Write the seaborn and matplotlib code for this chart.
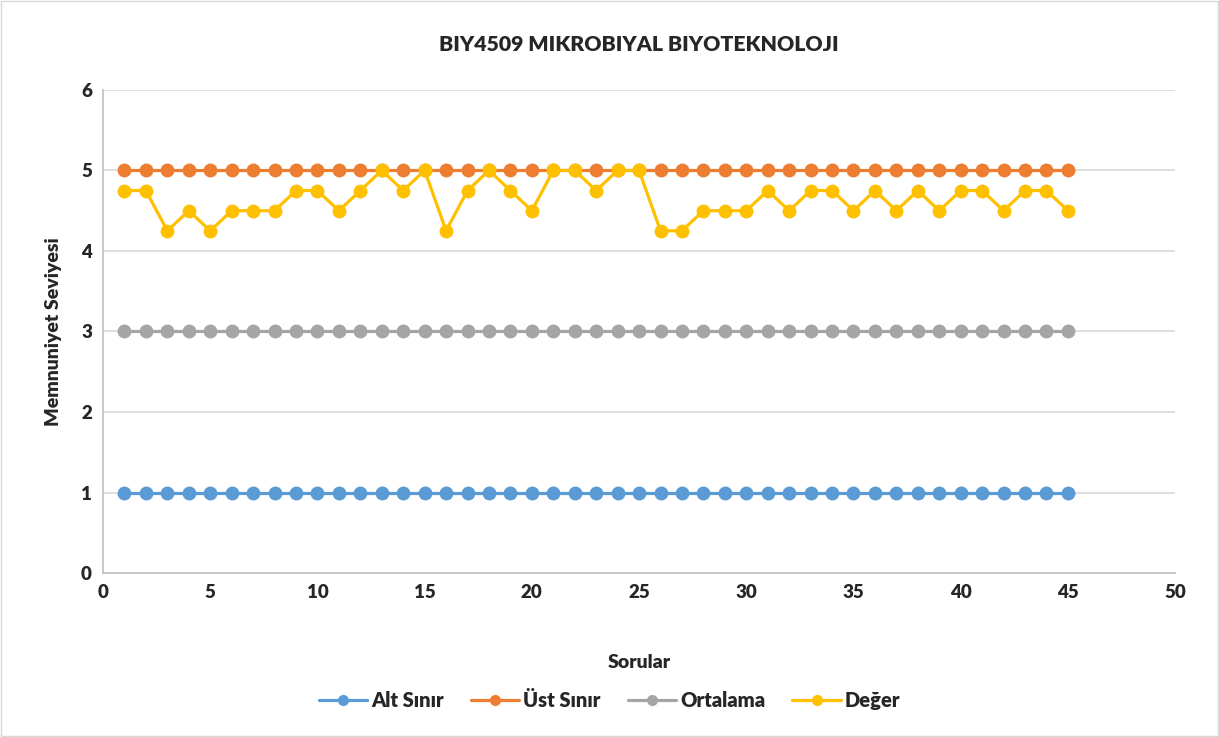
import numpy as np
import pandas as pd
import matplotlib
matplotlib.use("Agg")
import matplotlib.pyplot as plt
import seaborn as sns

# data
sorular = list(range(1, 46))
alt_sinir = [1] * 45
ust_sinir = [5] * 45
ortalama = [3] * 45
deger = [4.75, 4.75, 4.25, 4.5, 4.25, 4.5, 4.5, 4.5, 4.75, 4.75,
         4.5, 4.75, 5, 4.75, 5, 4.25, 4.75, 5, 4.75, 4.5,
         5, 5, 4.75, 5, 5, 4.25, 4.25, 4.5, 4.5, 4.5,
         4.75, 4.5, 4.75, 4.75, 4.5, 4.75, 4.5, 4.75, 4.5, 4.75,
         4.75, 4.5, 4.75, 4.75, 4.5]

series_names = ["Alt Sınır", "Üst Sınır", "Ortalama", "Değer"]
series_colors = ["#5B9BD5", "#ED7D31", "#A5A5A5", "#FFC000"]

df = pd.DataFrame({
    "Sorular": sorular * 4,
    "value": alt_sinir + ust_sinir + ortalama + deger,
    "series": np.repeat(series_names, len(sorular)),
})

sns.set_style("white")
plt.rcParams["font.family"] = ["Lato", "DejaVu Sans"]

fig = plt.figure(figsize=(12.19, 7.37), dpi=100)
ax = fig.add_axes([0.0845, 0.2225, 0.8795, 0.6555])

for name, color in zip(series_names, series_colors):
    sns.lineplot(data=df[df["series"] == name], x="Sorular", y="value",
                 color=color, marker="o", markersize=10, markeredgewidth=0,
                 linewidth=2.3, label=name, ax=ax)

ax.set_xlim(0, 50)
ax.set_ylim(0, 6)
ax.set_xticks(range(0, 51, 5))
ax.set_yticks(range(0, 7))
ax.tick_params(axis="both", length=0, labelsize=13.5, pad=8)
for lbl in ax.get_xticklabels() + ax.get_yticklabels():
    lbl.set_fontweight("heavy")
ax.grid(axis="y", color="#D9D9D9", linewidth=1.2)
ax.grid(axis="x", visible=False)
for side in ["top", "right"]:
    ax.spines[side].set_visible(False)
for side in ["left", "bottom"]:
    ax.spines[side].set_color("#BFBFBF")
    ax.spines[side].set_linewidth(1.2)

ax.set_title("BIY4509 MIKROBIYAL BIYOTEKNOLOJI", fontsize=15.3, fontweight="heavy",
             color="#262626", pad=28)
ax.set_xlabel("Sorular", fontsize=14, fontweight="heavy", labelpad=38)
ax.set_ylabel("Memnuniyet Seviyesi", fontsize=14, fontweight="heavy", labelpad=14)

ax.legend(loc="lower center", bbox_to_anchor=(0.5, 0.012), bbox_transform=fig.transFigure,
          ncol=4, frameon=False, handlelength=2.4, columnspacing=1.35,
          handletextpad=0.2, markerscale=0.8, prop={"weight": "heavy", "size": 14.5})

fig.add_artist(plt.Rectangle((0.001, 0.001), 0.998, 0.998, transform=fig.transFigure,
                             fill=False, edgecolor="#D9D9D9", linewidth=1))

fig.savefig("out.png", dpi=100)
